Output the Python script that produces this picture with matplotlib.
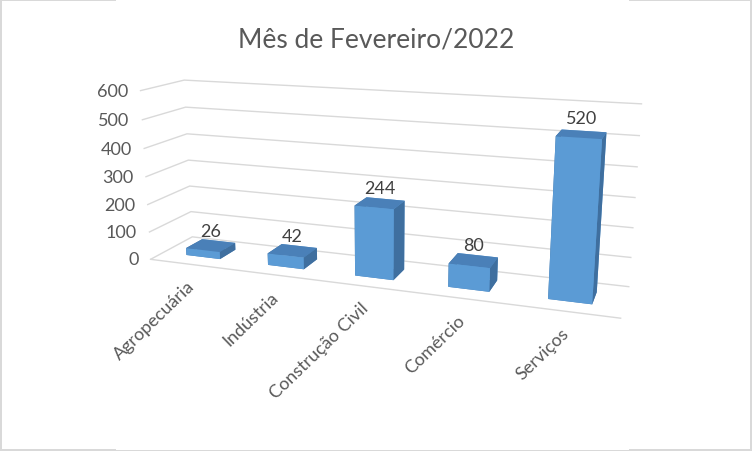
import numpy as np
import matplotlib.pyplot as plt
import matplotlib.transforms as mtransforms
from mpl_toolkits.mplot3d import proj3d

plt.rcParams['font.family'] = ['Lato', 'DejaVu Sans']

categorias = ['Agropecuária', 'Indústria', 'Construção Civil', 'Comércio', 'Serviços']
valores = [26, 42, 244, 80, 520]
eixo_z = [0, 100, 200, 300, 400, 500, 600]
titulo = 'Mês de Fevereiro/2022'

cinza_txt = '#595959'
cinza_grid = '#d9d9d9'
frente = '#5b9bd5'
lado = '#3f6f9f'
topo = '#4a80b8'

fig = plt.figure(figsize=(7.52, 4.52), dpi=100, edgecolor=cinza_grid, linewidth=1.5)
fig.suptitle(titulo, fontsize=19, color=cinza_txt, y=0.94)

# perspectiva ajustada ao grafico 3D do Excel
ax = fig.add_axes([0.1548, 0.0016, 0.6822, 1.135], projection='3d')
ax.set_xlim(-0.5, 4.5)
ax.set_ylim(0, 1)
ax.set_zlim(0, 600)
ax.set_box_aspect((5, 0.876, 1.849), zoom=1)
ax.view_init(elev=14.22, azim=-70.35)
ax.set_proj_type('persp', focal_length=0.337)
for t in (ax.title, ax._left_title, ax._right_title):
    t.set_visible(False)

n = len(valores)
x = np.arange(n)
larg, prof = 0.42, 0.4
# faces: -z, +z, -y, +y, -x, +x
cores = [topo, topo, frente, frente, lado, lado] * n
ax.bar3d(x - larg / 2, 0.5 - prof / 2, np.zeros(n), larg, prof, valores,
         color=cores, shade=False, edgecolor='none')

for xi, v in zip(x, valores):
    ax.text(xi, 0.5, v + 25, str(v), ha='center', va='bottom', fontsize=13, color='#404040')

ax.plot([-0.5, n - 0.5], [0, 0], [0, 0], color=cinza_grid, lw=1)

ax.set_zticks(eixo_z)
ax.set_xticks([])
ax.set_yticks([])

for eixo in (ax.xaxis, ax.yaxis, ax.zaxis):
    eixo.pane.fill = False
    eixo.pane.set_edgecolor((1, 1, 1, 0))
    eixo.line.set_color((1, 1, 1, 0))
    eixo.label.set_visible(False)
    eixo.offsetText.set_visible(False)
    eixo.set_tick_params(label1On=False)
    eixo._axinfo['tick']['inward_factor'] = 0
    eixo._axinfo['tick']['outward_factor'] = 0
ax.zaxis._axinfo['grid'].update(color=cinza_grid, linewidth=1)
ax.xaxis._axinfo['grid'].update(linewidth=0)
ax.yaxis._axinfo['grid'].update(linewidth=0)

M = ax.get_proj()


def no_plano(xs, ys, zs):
    qx, qy, _ = proj3d.proj_transform(xs, ys, zs, M)
    return qx, qy


desl_z = mtransforms.offset_copy(ax.transData, fig, x=-12, y=0, units='dots')
for v in eixo_z:
    qx, qy = no_plano(-0.5, 0, v)
    ax.text2D(qx, qy, str(v), transform=desl_z, ha='right', va='center',
              fontsize=13, color=cinza_txt)

desl_x = mtransforms.offset_copy(ax.transData, fig, x=1, y=-19, units='dots')
for xi, c in zip(x, categorias):
    qx, qy = no_plano(xi, 0, 0)
    ax.text2D(qx, qy, c, transform=desl_x, ha='right', va='center', rotation=44,
              rotation_mode='anchor', fontsize=13, color=cinza_txt)

fig.savefig('out.png', dpi=100, edgecolor=fig.get_edgecolor())
